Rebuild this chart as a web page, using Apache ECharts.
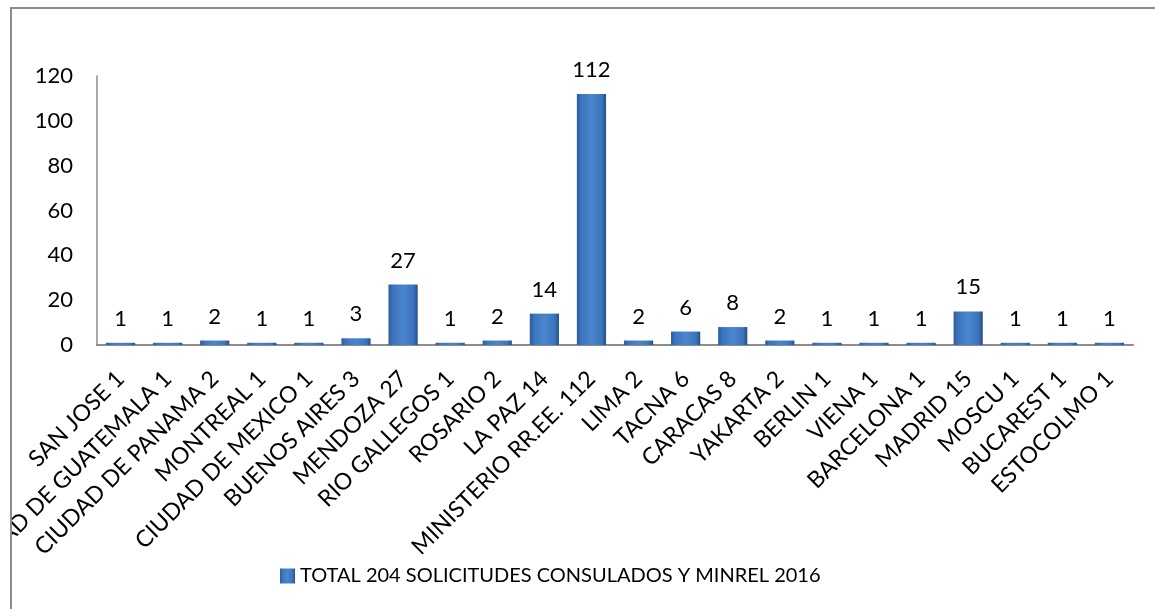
<!DOCTYPE html>
<html>
<head>
<meta charset="utf-8">
<script src="https://cdn.jsdelivr.net/npm/echarts@6/dist/echarts.min.js"></script>
<style>
html,body{margin:0;padding:0;background:#fff;width:1155px;height:609px;overflow:hidden;}
#frame{position:absolute;left:10px;top:7px;width:1145px;height:602px;border-top:2px solid #8c8c8c;border-left:2px solid #8c8c8c;overflow:hidden;}
#chart{position:absolute;left:0;top:0;width:1143px;height:600px;}
</style>
</head>
<body>
<div id="frame"><div id="chart"></div></div>
<script>
const categories = ['SAN JOSE 1','CIUDAD DE GUATEMALA 1','CIUDAD DE PANAMA 2','MONTREAL 1','CIUDAD DE MEXICO 1','BUENOS AIRES 3','MENDOZA 27','RIO GALLEGOS 1','ROSARIO 2','LA PAZ 14','MINISTERIO RR.EE. 112','LIMA 2','TACNA 6','CARACAS 8','YAKARTA 2','BERLIN 1','VIENA 1','BARCELONA 1','MADRID 15','MOSCU 1','BUCAREST 1','ESTOCOLMO 1'];
const values = [1,1,2,1,1,3,27,1,2,14,112,2,6,8,2,1,1,1,15,1,1,1];
const seriesName = 'TOTAL 204 SOLICITUDES CONSULADOS Y MINREL 2016';
const yTicks = [0,20,40,60,80,100,120];

const font = 'Lato, "Open Sans", sans-serif';
const barColor = new echarts.graphic.LinearGradient(0,0,1,0,[
  {offset:0,color:'#2b5b99'},
  {offset:0.15,color:'#3b74bd'},
  {offset:0.5,color:'#4a86cf'},
  {offset:0.85,color:'#3b74bd'},
  {offset:1,color:'#244f87'}
]);
const chart = echarts.init(document.getElementById('chart'));
chart.setOption({
  animation:false,
  textStyle:{fontFamily:font},
  grid:{left:85,top:67,width:1036,height:269,containLabel:false,outerBoundsMode:'none'},
  legend:{
    left:263, top:552, itemWidth:15, itemHeight:15, icon:'rect',
    textStyle:{fontFamily:font,fontSize:20,color:'#000'},
    data:[seriesName]
  },
  xAxis:{
    type:'category', data:categories,
    axisLine:{lineStyle:{color:'#8c8c8c',width:2}},
    axisTick:{show:false},
    axisLabel:{rotate:45,interval:0,margin:30,fontFamily:font,fontSize:23,color:'#000'}
  },
  yAxis:{
    type:'value', min:0, max:120, interval:20,
    axisLine:{show:true,lineStyle:{color:'#8c8c8c',width:1.5}},
    axisTick:{show:false},
    splitLine:{show:false},
    axisLabel:{margin:24,fontFamily:font,fontSize:22,color:'#000',
      formatter:function(v){return yTicks.indexOf(v)>=0?String(v):'';}}
  },
  series:[{
    name:seriesName, type:'bar', data:values,
    barCategoryGap:'38%',
    itemStyle:{color:barColor},
    label:{show:true,position:'top',distance:13,fontFamily:font,fontSize:22,color:'#000'}
  }]
});
</script>
</body>
</html>
